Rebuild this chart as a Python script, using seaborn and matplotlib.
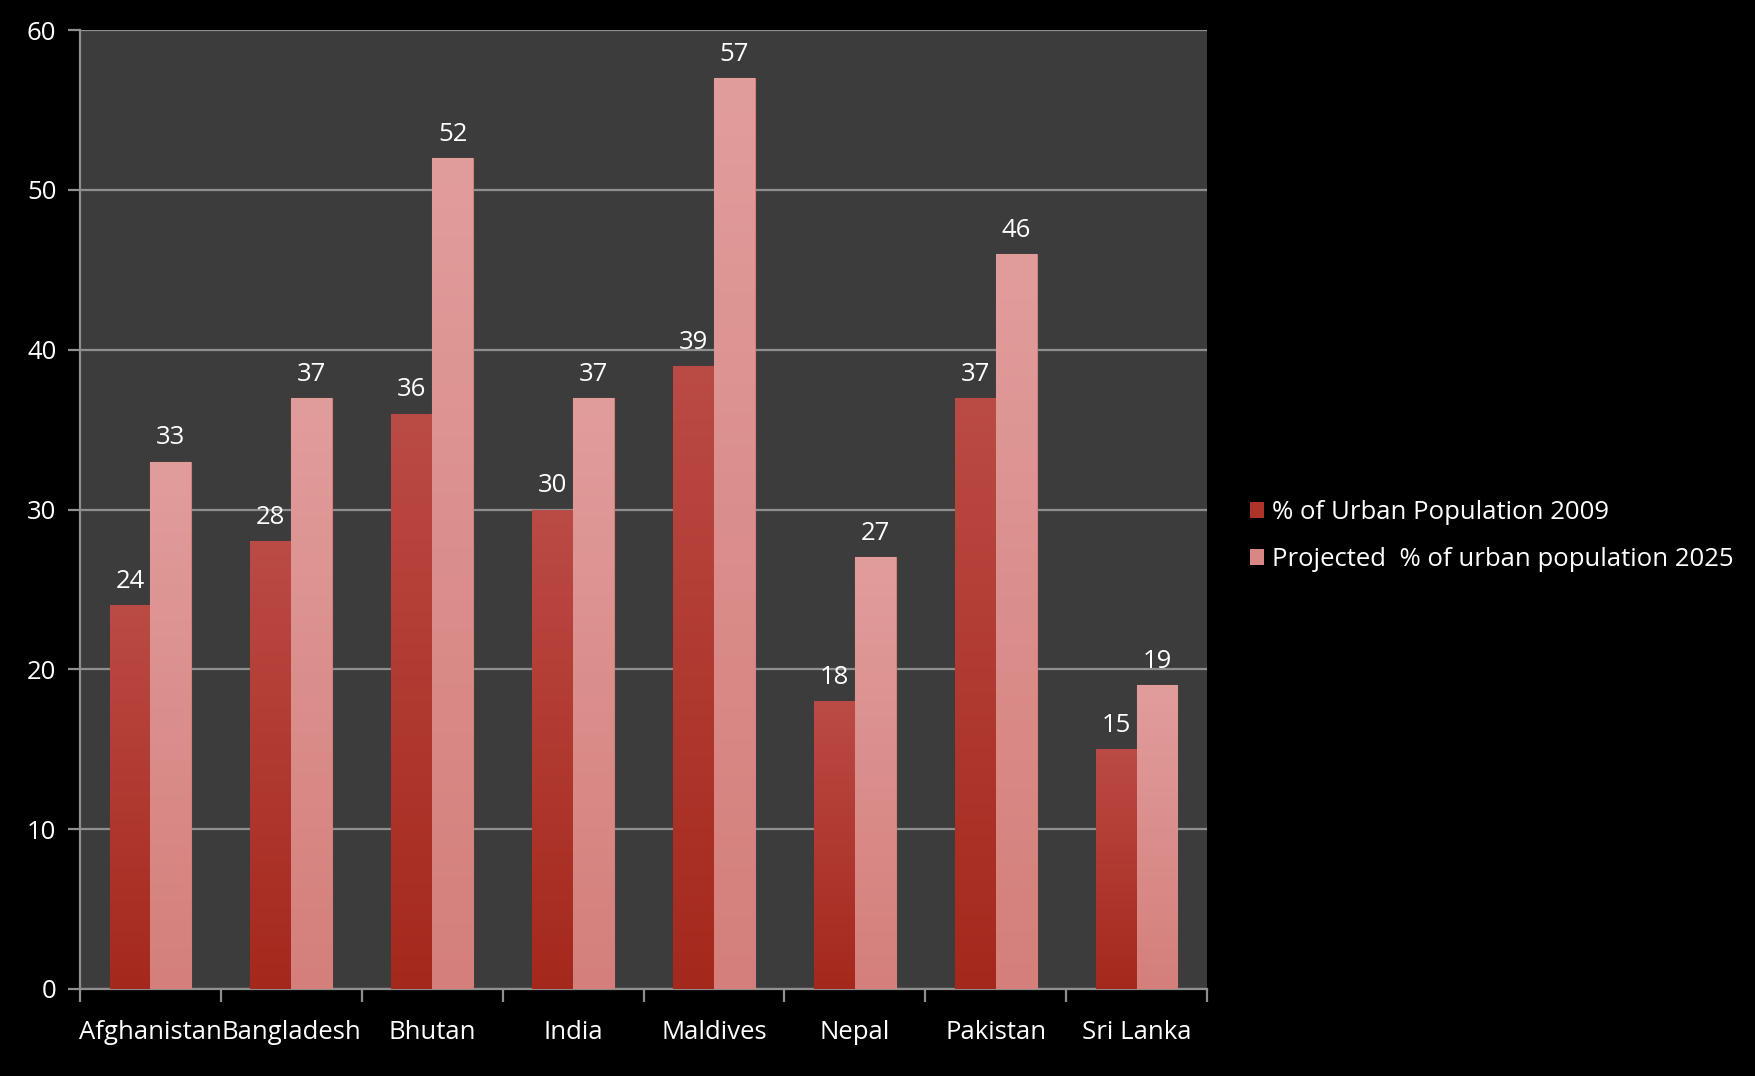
import numpy as np
import pandas as pd
import matplotlib
matplotlib.use("Agg")
import matplotlib.pyplot as plt
import seaborn as sns
from matplotlib.colors import LinearSegmentedColormap
from matplotlib.patches import Patch

countries = ["Afghanistan", "Bangladesh", "Bhutan", "India", "Maldives", "Nepal", "Pakistan", "Sri Lanka"]
urban_2009 = [24, 28, 36, 30, 39, 18, 37, 15]
projected_2025 = [33, 37, 52, 37, 57, 27, 46, 19]
series_names = ["% of Urban Population 2009", "Projected  % of urban population 2025"]
y_ticks = [0, 10, 20, 30, 40, 50, 60]

df = pd.DataFrame({
    "Country": countries * 2,
    "Series": [series_names[0]] * len(countries) + [series_names[1]] * len(countries),
    "Value": urban_2009 + projected_2025,
})

sns.set_theme(style="dark")
plt.rcParams["font.family"] = ["Open Sans", "DejaVu Sans"]

FS = 18.5

fig = plt.figure(figsize=(17.55, 10.76), dpi=100, facecolor="black")
ax = fig.add_axes([80 / 1755, 1 - 989 / 1076, (1207 - 80) / 1755, (989 - 30) / 1076])
ax.set_facecolor("#3c3c3c")

base_colors = {series_names[0]: "#ae3328", series_names[1]: "#d98784"}
grad = {
    series_names[0]: ("#bb4b45", "#a5281c"),
    series_names[1]: ("#e19d9c", "#d47f7b"),
}

sns.barplot(data=df, x="Country", y="Value", hue="Series", order=countries,
            hue_order=series_names, palette=base_colors, width=0.58,
            saturation=1, ax=ax, legend=False, zorder=3)

# gradient fill on each bar
for container, name in zip(ax.containers, series_names):
    top_c, bot_c = grad[name]
    cmap = LinearSegmentedColormap.from_list(name, [bot_c, top_c])
    for patch in container.patches:
        x0, y0 = patch.get_x(), patch.get_y()
        w, h = patch.get_width(), patch.get_height()
        img = ax.imshow(np.linspace(0, 1, 256).reshape(-1, 1), cmap=cmap,
                        extent=[x0, x0 + w, y0, y0 + h], origin="lower",
                        aspect="auto", zorder=4, interpolation="bilinear")
        img.set_clip_path(patch)
        patch.set_edgecolor(bot_c)
        patch.set_linewidth(0.8)
    ax.bar_label(container, padding=8, color="white", fontsize=FS, zorder=6)

ax.set_aspect("auto")
ax.set_xlim(-0.5, len(countries) - 0.5)
ax.set_ylim(0, 60)

# grid and ticks
ax.set_yticks(y_ticks)
ax.yaxis.grid(True, color="#8f8f8f", linewidth=1.6, zorder=1)
ax.xaxis.grid(False)
ax.set_axisbelow(True)
ax.set_xticks(np.arange(-0.5, len(countries), 1.0))
ax.set_xticklabels([])
ax.set_xticks(np.arange(len(countries)), minor=True)
ax.set_xticklabels(countries, minor=True)
ax.tick_params(axis="x", which="major", length=9, width=1.6, color="#8f8f8f", bottom=True, direction="out")
ax.tick_params(axis="x", which="minor", length=0, labelsize=FS, labelcolor="white", pad=22)
ax.tick_params(axis="y", length=9, width=1.6, color="#8f8f8f", labelsize=FS, labelcolor="white", left=True, direction="out", pad=8)
ax.set_xlabel("")
ax.set_ylabel("")

for side in ["top", "right"]:
    ax.spines[side].set_visible(False)
for side in ["left", "bottom"]:
    ax.spines[side].set_visible(True)
    ax.spines[side].set_color("#8f8f8f")
    ax.spines[side].set_linewidth(1.6)

handles = [Patch(facecolor=base_colors[n], edgecolor="none") for n in series_names]
leg = fig.legend(handles, series_names, loc="center left", bbox_to_anchor=(1240 / 1755, 1 - 536 / 1076),
                 frameon=False, fontsize=FS, labelcolor="white", handlelength=0.55, handleheight=0.55,
                 handletextpad=0.3, labelspacing=0.85, borderaxespad=0)

fig.savefig("out.png", dpi=100, facecolor="black")
